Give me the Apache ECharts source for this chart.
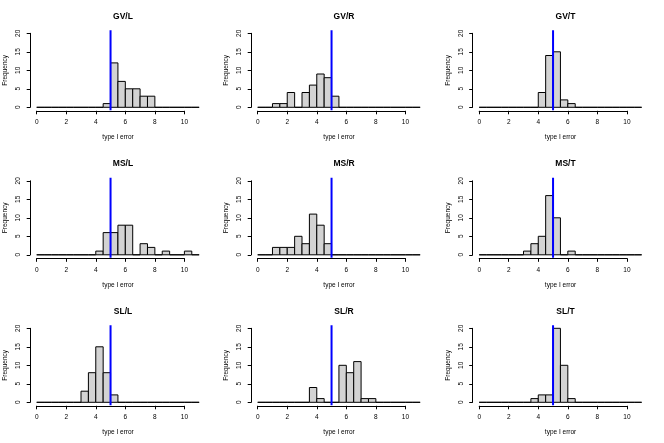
<!DOCTYPE html>
<html>
<head>
<meta charset="utf-8">
<script src="https://cdn.jsdelivr.net/npm/echarts@6/dist/echarts.min.js"></script>
<style>
html, body { margin: 0; padding: 0; background: #fff; }
#main { width: 664px; height: 443px; }
</style>
</head>
<body>
<div id="main"></div>
<script>
// histogram bins: 0 to 11, width 0.5
const binStarts = [0, 0.5, 1, 1.5, 2, 2.5, 3, 3.5, 4, 4.5, 5, 5.5, 6, 6.5, 7, 7.5, 8, 8.5, 9, 9.5, 10, 10.5]
const binWidth = 0.5

const titles = ['GV/L', 'GV/R', 'GV/T', 'MS/L', 'MS/R', 'MS/T', 'SL/L', 'SL/R', 'SL/T']

const gvL = [0, 0, 0, 0, 0, 0, 0, 0, 0, 1, 12, 7, 5, 5, 3, 3, 0, 0, 0, 0, 0, 0]
const gvR = [0, 0, 1, 1, 4, 0, 4, 6, 9, 8, 3, 0, 0, 0, 0, 0, 0, 0, 0, 0, 0, 0]
const gvT = [0, 0, 0, 0, 0, 0, 0, 0, 4, 14, 15, 2, 1, 0, 0, 0, 0, 0, 0, 0, 0, 0]
const msL = [0, 0, 0, 0, 0, 0, 0, 0, 1, 6, 6, 8, 8, 0, 3, 2, 0, 1, 0, 0, 1, 0]
const msR = [0, 0, 2, 2, 2, 5, 3, 11, 8, 3, 0, 0, 0, 0, 0, 0, 0, 0, 0, 0, 0, 0]
const msT = [0, 0, 0, 0, 0, 0, 1, 3, 5, 16, 10, 0, 1, 0, 0, 0, 0, 0, 0, 0, 0, 0]
const slL = [0, 0, 0, 0, 0, 0, 3, 8, 15, 8, 2, 0, 0, 0, 0, 0, 0, 0, 0, 0, 0, 0]
const slR = [0, 0, 0, 0, 0, 0, 0, 4, 1, 0, 0, 10, 8, 11, 1, 1, 0, 0, 0, 0, 0, 0]
const slT = [0, 0, 0, 0, 0, 0, 0, 1, 2, 2, 20, 10, 1, 0, 0, 0, 0, 0, 0, 0, 0, 0]

const counts = [gvL, gvR, gvT, msL, msR, msT, slL, slR, slT]

// nominal level marked with the blue line
const nominalLevel = 5
// vertical extent of the plot region (R's usr)
const yRegion = [-0.8, 20.8]

const colX = [0, 221, 442.5]
const rowY = [0, 147.5, 295]
const font = 'Liberation Sans, Arial, sans-serif'

const grids = []
const xAxes = []
const yAxes = []
const series = []
const titleList = []

titles.forEach((t, i) => {
  const px = colX[i % 3]
  const py = rowY[Math.floor(i / 3)]
  grids.push({ left: px + 36.7, top: py + 33.3, width: 147.7, height: 74 })
  titleList.push({
    text: t,
    left: px + 118,
    top: py + 7,
    textAlign: 'center',
    textStyle: { fontFamily: font, fontSize: 8.5, fontWeight: 'bold', color: '#000' },
  })
  xAxes.push({
    gridIndex: i,
    type: 'value',
    min: 0,
    max: 10,
    interval: 2,
    offset: 3.5,
    axisLine: { show: true, onZero: false, lineStyle: { color: '#000', width: 1 } },
    axisTick: { show: true, length: 3.5, lineStyle: { color: '#000' } },
    axisLabel: { fontFamily: font, fontSize: 6.5, color: '#000', margin: 8 },
    splitLine: { show: false },
    name: 'type I error',
    nameLocation: 'middle',
    nameGap: 23,
    nameTextStyle: { fontFamily: font, fontSize: 6.5, color: '#000', padding: [0, 0, 0, 15] },
  })
  yAxes.push({
    gridIndex: i,
    type: 'value',
    min: 0,
    max: 20,
    interval: 5,
    offset: 6.5,
    axisLine: { show: true, onZero: false, lineStyle: { color: '#000', width: 1 } },
    axisTick: { show: true, length: 3.5, lineStyle: { color: '#000' } },
    axisLabel: { fontFamily: font, fontSize: 6.5, color: '#000', rotate: 90, margin: 8 },
    splitLine: { show: false },
    name: 'Frequency',
    nameLocation: 'middle',
    nameRotate: 90,
    nameGap: 21,
    nameTextStyle: { fontFamily: font, fontSize: 6.5, color: '#000' },
  })
  series.push({
    type: 'custom',
    xAxisIndex: i,
    yAxisIndex: i,
    clip: false,
    silent: true,
    data: binStarts.map((b, k) => [b, b + binWidth, counts[i][k]]),
    renderItem: (params, api) => {
      const p0 = api.coord([api.value(0), api.value(2)])
      const p1 = api.coord([api.value(1), 0])
      return {
        type: 'rect',
        shape: { x: p0[0], y: p0[1], width: p1[0] - p0[0], height: p1[1] - p0[1] },
        style: { fill: '#d3d3d3', stroke: '#000', lineWidth: 1 },
      }
    },
  })
  series.push({
    type: 'line',
    xAxisIndex: i,
    yAxisIndex: i,
    clip: false,
    silent: true,
    symbol: 'none',
    data: [[nominalLevel, yRegion[0]], [nominalLevel, yRegion[1]]],
    lineStyle: { color: '#0000ff', width: 2 },
    z: 5,
  })
})

const chart = echarts.init(document.getElementById('main'))
chart.setOption({
  animation: false,
  backgroundColor: '#fff',
  title: titleList,
  grid: grids,
  xAxis: xAxes,
  yAxis: yAxes,
  series: series,
})
</script>
</body>
</html>
